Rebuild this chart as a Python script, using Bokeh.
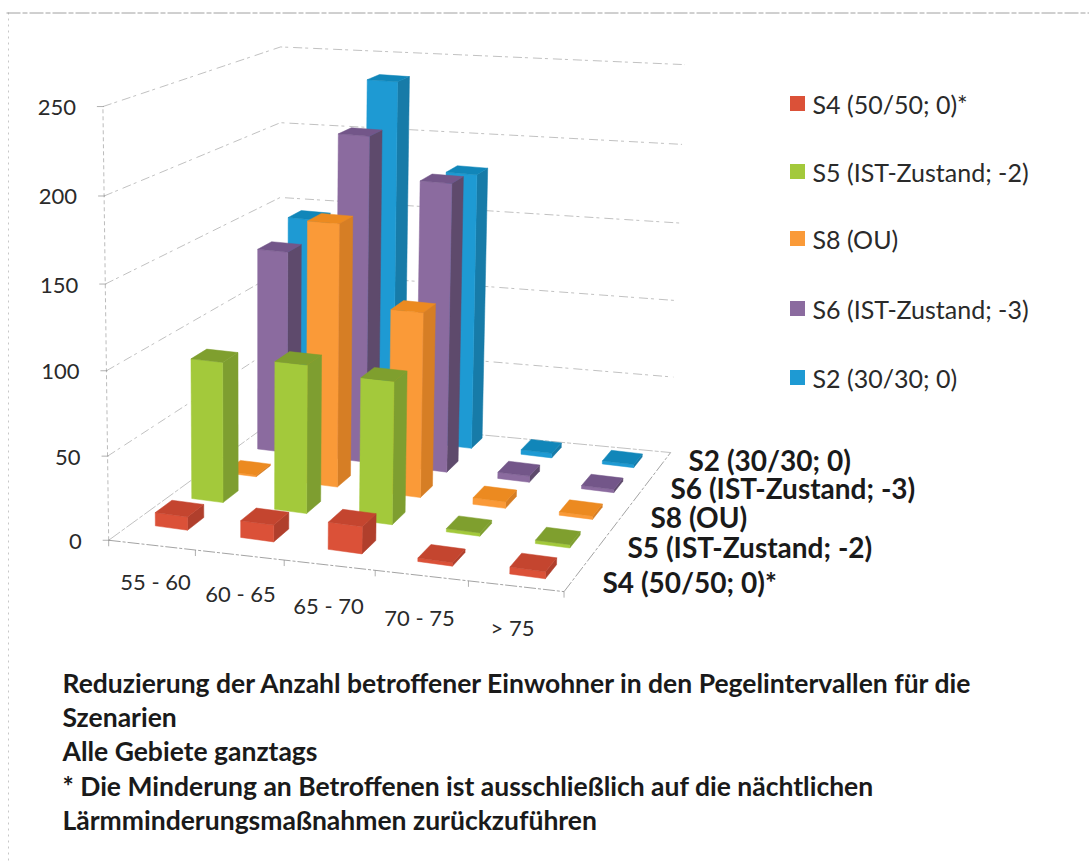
import numpy as np
from bokeh.plotting import figure
from bokeh.models import Range1d
from bokeh.core.properties import value
from bokeh.embed import file_html
from bokeh.resources import INLINE

categories = ["55 - 60", "60 - 65", "65 - 70", "70 - 75", "> 75"]
series_names = ["S4 (50/50; 0)*", "S5 (IST-Zustand; -2)", "S8 (OU)", "S6 (IST-Zustand; -3)", "S2 (30/30; 0)"]
s4 = [8, 10, 16, 2, 4]
s5 = [86, 90, 86, 2, 2]
s8 = [1, 163, 114, 4, 2]
s6 = [130, 207, 182, 4, 2]
s2 = [140, 233, 178, 3, 2]
series_values = [s4, s5, s8, s6, s2]
ticks = [0, 50, 100, 150, 200, 250]
caption = ["Reduzierung der Anzahl betroffener  Einwohner in den Pegelintervallen für die",
           "Szenarien",
           "Alle Gebiete ganztags",
           "* Die Minderung an Betroffenen ist ausschließlich auf die nächtlichen",
           "Lärmminderungsmaßnahmen zurückzuführen"]

front = ["#DB5138", "#A3C93B", "#FA9A38", "#8B6B9F", "#1E9AD3"]
side = ["#B03F2C", "#7E9E30", "#D67E25", "#5E4A6C", "#177BA8"]
top = ["#C4452F", "#7F9F2E", "#EC8A20", "#735689", "#1186B9"]

FONT = "Lato"


def camera(corr):
    A = []
    for (X, Y, Z), (sx, sy) in corr:
        A.append([X, Y, Z, 1, 0, 0, 0, 0, -sx * X, -sx * Y, -sx * Z, -sx])
        A.append([0, 0, 0, 0, X, Y, Z, 1, -sy * X, -sy * Y, -sy * Z, -sy])
    P = np.linalg.svd(np.array(A, float))[2][-1].reshape(3, 4)

    def proj(u, w, v):
        q = P @ np.array([u, w, v / 250.0, 1.0])
        return q[0] / q[2], q[1] / q[2]
    return proj


# (u, w, v/250) -> page pixels: one camera for the box, one slightly adjusted for the bars
proj = camera([((0, 0, 0), (113, 535)), ((0, 0, 1), (97, 107)), ((1, 0, 0), (564, 595)),
               ((1, 1, 0), (672, 448)), ((1, 1, 1), (682, 65)), ((0, 1, 1), (287, 45)),
               ((0, 1, 0), (273, 420))])
bar_proj = camera([((0, 0, 0), (121, 525)), ((0, 0, 1), (105, 97)), ((1, 0, 0), (564, 595)),
                   ((1, 1, 0), (672, 448)), ((1, 1, 1), (682, 65)), ((0, 1, 1), (290, 37)),
                   ((0, 1, 0), (276, 412))])

p = figure(width=1089, height=862, x_range=Range1d(0, 1089), y_range=Range1d(862, 0),
           output_backend="svg", toolbar_location=None, min_border=0,
           x_axis_type=None, y_axis_type=None, outline_line_color=None,
           background_fill_color="#FFFFFF", border_fill_color="#FFFFFF")
p.grid.visible = False

GRID = "#8E8E8E"


def seg(points, width=1.0, dash="7 3 2 4", color=GRID, alpha=0.6):
    xs, ys = zip(*[proj(*q) for q in points])
    p.line(list(xs), list(ys), line_color=color, line_width=width, line_dash=dash, line_alpha=alpha)


# scan edge
p.line([6, 1089], [12.5, 12.5], line_color="#777777", line_width=1, line_dash="14 2 5 2", line_alpha=0.7)
p.line([8, 8], [12, 862], line_color="#999999", line_width=1, line_dash="2 4", line_alpha=0.55)

# walls
for t in ticks:
    seg([(0, 0, t), (0, 1, t), (1, 1, t)], dash="9 3 3 5" if t else "14 2 4 2", alpha=0.55)
seg([(0, 0, 0), (0, 0, 250)], dash="4 3")
seg([(0, 0, 0), (1, 0, 0)], dash="12 2 3 2", color="#666666")
seg([(1, 0, 0), (1, 1, 0)], dash="12 2 3 2", color="#666666")
for t in ticks:
    x, y = proj(0, 0, t)
    p.line([x - 6, x + 1], [y, y], line_color=GRID, line_width=1, line_alpha=0.7)
for i in range(6):
    x, y = proj(i / 5, 0, 0)
    p.line([x, x], [y, y + 6], line_color=GRID, line_width=1, line_alpha=0.7)

# bars, drawn back to front
HALF_U = 0.19 / 5
HALF_W = 0.225 / 5
for j in reversed(range(5)):
    wc = (j + 0.5) / 5
    for i in range(5):
        uc = (i + 0.53) / 5
        val = series_values[j][i]
        u0, u1, w0, w1 = uc - HALF_U, uc + HALF_U, wc - HALF_W, wc + HALF_W
        faces = [
            ([(u1, w0, 0), (u1, w1, 0), (u1, w1, val), (u1, w0, val)], side[j]),
            ([(u0, w0, 0), (u1, w0, 0), (u1, w0, val), (u0, w0, val)], front[j]),
            ([(u0, w0, val), (u1, w0, val), (u1, w1, val), (u0, w1, val)], top[j]),
        ]
        for pts, c in faces:
            xs, ys = zip(*[bar_proj(*q) for q in pts])
            p.patch(list(xs), list(ys), fill_color=c, line_color=c, line_width=0.5)

# value axis labels
for t in ticks:
    x, y = proj(0, 0, t)
    p.text([x - 27], [y + 1], text=[str(t)], text_font=value(FONT), text_font_size="22px",
           text_color="#2A2A2A", text_align="right", text_baseline="middle")

# category labels
cat_x = [155, 240, 328, 419, 512]
cat_y = [581, 593, 605, 617, 627]
for c, x, y in zip(categories, cat_x, cat_y):
    p.text([x], [y], text=[c], text_font=value(FONT), text_font_size="22px",
           text_color="#2A2A2A", text_align="center", text_baseline="middle")

# depth labels
depth_x = [602, 627, 650, 670, 688]
depth_y = [581, 546, 516, 487, 459]
for name, x, y in zip(series_names, depth_x, depth_y):
    p.text([x], [y], text=[name], text_font=value(FONT), text_font_style="bold", text_font_size="28px",
           text_color="#1A1A1A", text_align="left", text_baseline="middle")

# legend
legend_y = [103, 171, 238, 308, 377]
for name, y, c in zip(series_names, legend_y, front):
    p.scatter([797], [y], marker="square", size=15, fill_color=c, line_color=None)
    p.text([812], [y], text=[name], text_font=value(FONT), text_font_size="25px",
           text_color="#2A2A2A", text_align="left", text_baseline="middle")

# caption
caption_y = [682, 716, 750, 785, 819]
for line, y in zip(caption, caption_y):
    p.text([62], [y], text=[line], text_font=value(FONT), text_font_style="bold", text_font_size="26.5px",
           text_color="#1A1A1A", text_align="left", text_baseline="middle")

open("out.html", "w").write(file_html(p, INLINE))
